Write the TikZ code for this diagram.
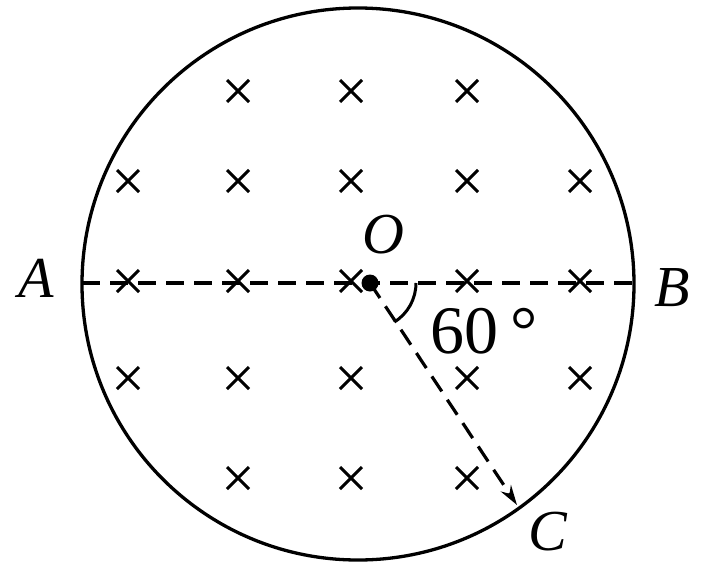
\documentclass[tikz,border=0pt]{standalone}
\usepackage{fontspec}
\setmainfont{Liberation Serif}
\usetikzlibrary{arrows.meta}
\begin{document}
\begin{tikzpicture}[x=1pt,y=-1pt,
  crossmark/.style={line width=3pt},
  lbl/.style={font=\fontsize{58}{60}\selectfont\itshape, inner sep=0pt},
  dsh/.style={line width=3.2pt, dash pattern=on 18pt off 10pt}]
\useasboundingbox (0,0) rectangle (709,570);
\node[circle, draw, line width=3.3pt, minimum size=552pt, inner sep=0pt] (circ) at (358,284) {};
\foreach \x/\y in {238/91,351/91,467/91,
  128/181,238/181,351/181,467/181,580/181,
  128/281,238/281,351/281,467/281,580/281,
  128/378,238/378,351/378,467/378,580/378,
  238/478,351/478,467/478}{
  \draw[crossmark] (\x-11,\y-11) -- (\x+11,\y+11) (\x-11,\y+11) -- (\x+11,\y-11);
}
\coordinate (a) at (82,283);
\coordinate (b) at (634,283);
\draw[dsh] (a) -- (b);
\node[circle, fill, inner sep=0pt, minimum size=17pt] (o) at (370,283) {};
\coordinate (c) at (517,505);
\draw[dsh, -{Stealth[length=20pt,width=12pt]}] (o.center) -- (c);
\draw[line width=3pt] (416,283) arc (0:58:46);
\node[lbl] (la) at (36,278) {A};
\node[lbl] (lb) at (672,288) {B};
\node[lbl] (lo) at (383,235) {O};
\node[lbl] (lc) at (548,532) {C};
\node[font=\fontsize{68}{70}\selectfont, inner sep=0pt] (ang) at (484,331) {60\,°};
\end{tikzpicture}
\end{document}
